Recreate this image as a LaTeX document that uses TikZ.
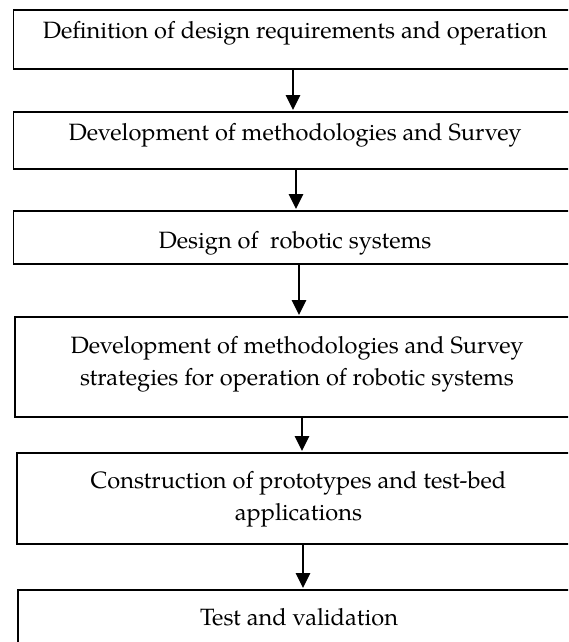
\documentclass[tikz,border=0pt]{standalone}
\usepackage{fontspec}
\setmainfont{TeX Gyre Pagella}
\usetikzlibrary{arrows.meta}
\begin{document}
\begin{tikzpicture}[x=1pt,y=-1pt,
  stage/.style={draw=black, line width=1.8pt, rectangle, inner sep=0pt, outer sep=0pt},
  caption/.style={anchor=base, inner sep=0pt, align=center,
    font=\fontsize{23.6}{32}\selectfont},
  flow/.style={line width=1.6pt, -{Triangle[length=15pt,width=14.5pt]}, shorten >=2pt}]
\useasboundingbox (0,0) rectangle (568,642);
\clip (0,0) rectangle (568,642);

% process stages (they run on past the right margin)
\node[stage, minimum width=566.5, minimum height=59]  (b1) at (296.75,39.5) {};
\node[stage, minimum width=566.5, minimum height=57]  (b2) at (296.75,140.5) {};
\node[stage, minimum width=566.5, minimum height=53]  (b3) at (296.75,237.5) {};
\node[stage, minimum width=565,   minimum height=100] (b4) at (297.5,367) {};
\node[stage, minimum width=563,   minimum height=91]  (b5) at (298.5,498.5) {};
\node[stage, minimum width=562,   minimum height=80]  (b6) at (299,630) {};

% stage captions (base = baseline of the last line)
\node[caption] (t1) at (295,38)  {Definition of design requirements and operation};
\node[caption] (t2) at (295,140) {Development of methodologies and Survey};
\node[caption] (t3) at (295,248) {Design of\ \ robotic systems};
\node[caption] (t4) at (297,385) {Development of methodologies and Survey\\strategies for operation of robotic systems};
\node[caption] (t5) at (298.5,520) {Construction of prototypes and test-bed\\applications};
\node[caption] (t6) at (299,625) {Test and validation};

% connector columns
\coordinate (x1) at (293,0);
\coordinate (x2) at (296,0);
\coordinate (x3) at (299,0);
\coordinate (x4) at (302,0);
\coordinate (x5) at (303,0);

\draw[flow] (b1.south -| x1) -- (b2.north -| x1);
\draw[flow] (b2.south -| x2) -- (b3.north -| x2);
\draw[flow] (b3.south -| x3) -- (b4.north -| x3);
\draw[flow] (b4.south -| x4) -- (b5.north -| x4);
\draw[flow] (b5.south -| x5) -- (b6.north -| x5);
\end{tikzpicture}
\end{document}
